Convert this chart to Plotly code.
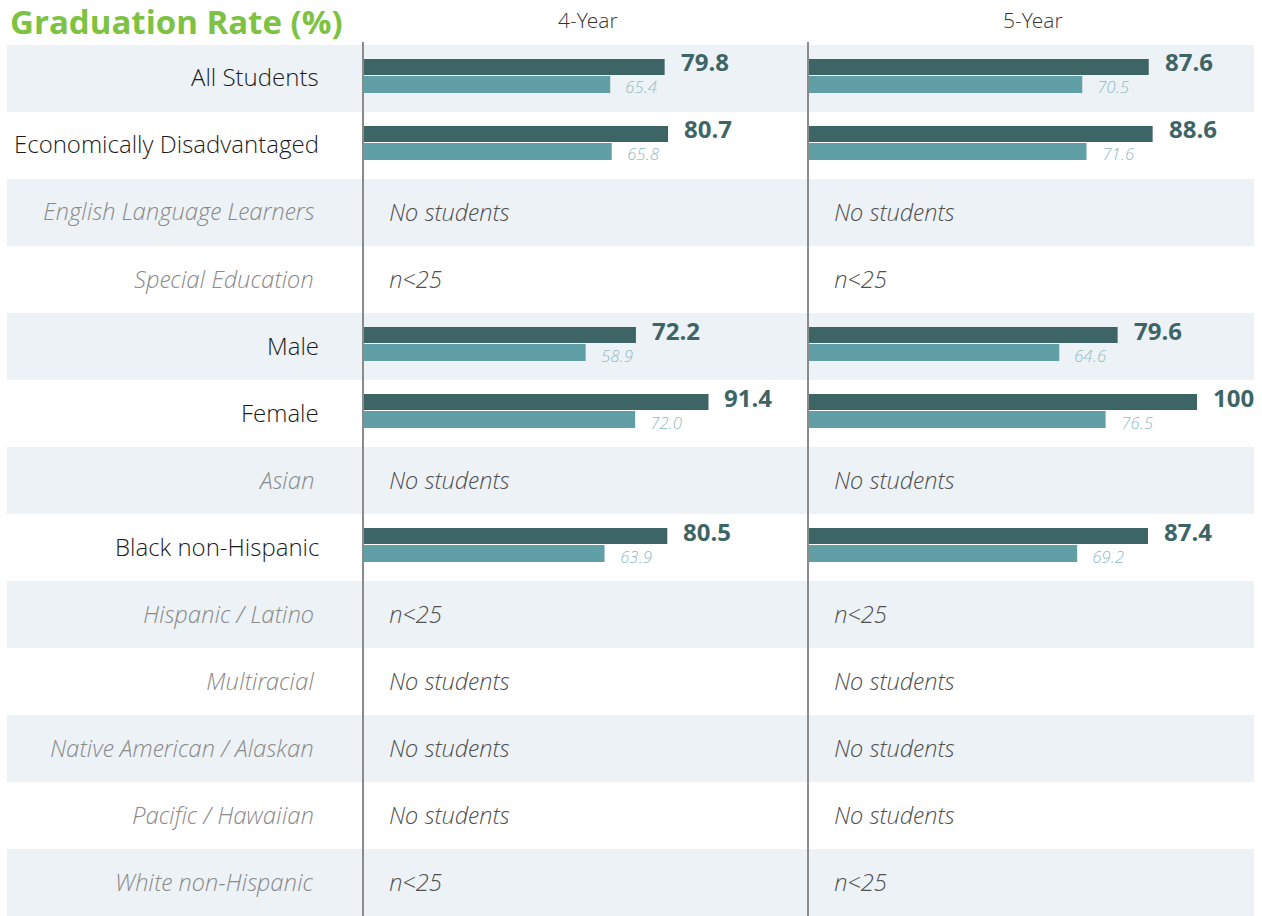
import plotly.graph_objects as go

W, H = 1262, 916

groups = ["All Students", "Economically Disadvantaged", "English Language Learners",
          "Special Education", "Male", "Female", "Asian", "Black non-Hispanic",
          "Hispanic / Latino", "Multiracial", "Native American / Alaskan",
          "Pacific / Hawaiian", "White non-Hispanic"]
status = ["", "", "No students", "n<25", "", "", "No students", "", "n<25",
          "No students", "No students", "No students", "n<25"]
four_year_school = [79.8, 80.7, None, None, 72.2, 91.4, None, 80.5, None, None, None, None, None]
four_year_state = [65.4, 65.8, None, None, 58.9, 72.0, None, 63.9, None, None, None, None, None]
five_year_school = [87.6, 88.6, None, None, 79.6, 100, None, 87.4, None, None, None, None, None]
five_year_state = [70.5, 71.6, None, None, 64.6, 76.5, None, 69.2, None, None, None, None, None]
columns = ["4-Year", "5-Year"]
title_text = "Graduation Rate (%)"

DARK = "#3e6566"
LIGHT = "#5f9fa5"
LIGHT_TXT = "#8dbcc1"
BAND = "#edf2f6"
FONT = "Open Sans Light, Open Sans"
FONT_B = "Open Sans"

rows = list(range(len(groups)))
top_px = 45
row_px = (H - top_px) / len(groups)

fig = go.Figure()

panels = [("x", four_year_school, four_year_state), ("x2", five_year_school, five_year_state)]
for xa, school, state in panels:
    fig.add_trace(go.Bar(y=rows, x=school, orientation="h", xaxis=xa, yaxis="y",
                         marker=dict(color=DARK, line=dict(width=0)),
                         width=16 / row_px, offset=-19.5 / row_px, showlegend=False,
                         hoverinfo="skip"))
    fig.add_trace(go.Bar(y=rows, x=state, orientation="h", xaxis=xa, yaxis="y",
                         marker=dict(color=LIGHT, line=dict(width=0)),
                         width=17 / row_px, offset=-2.5 / row_px, showlegend=False,
                         hoverinfo="skip"))

shapes = []
annotations = []

# row bands
for i in rows:
    if i % 2 == 0:
        shapes.append(dict(type="rect", xref="paper", yref="y", x0=7 / W, x1=1254 / W,
                           y0=i - 0.5, y1=i + 0.5, fillcolor=BAND, line=dict(width=0),
                           layer="below"))

# divider lines
for xp in (363, 808):
    shapes.append(dict(type="line", xref="paper", yref="paper", x0=xp / W, x1=xp / W,
                       y0=0, y1=1 - 42 / H, line=dict(color="#8a8a8a", width=2)))

# row labels
for i, g in enumerate(groups):
    has_data = status[i] == ""
    annotations.append(dict(
        xref="paper", yref="y", x=(321 if has_data else 316) / W, y=i,
        xanchor="right", yanchor="middle", showarrow=False, text=g, yshift=1.5,
        font=dict(family=FONT, size=24, weight=300,
                  color="#1a1a1a" if has_data else "#8a8a8a",
                  style="normal" if has_data else "italic")))

# status text in panels
for xa, xp in (("x", 387), ("x2", 832)):
    for i, s in enumerate(status):
        if s:
            annotations.append(dict(
                xref="paper", yref="y", x=xp / W, y=i, xanchor="left", yanchor="middle",
                showarrow=False, text=s, yshift=1,
                font=dict(family=FONT, size=24, weight=300, color="#505050",
                          style="italic")))

# value labels
for xa, school, state in panels:
    for i in rows:
        if school[i] is not None:
            v = school[i]
            annotations.append(dict(
                xref=xa, yref="y", x=v, y=i, xanchor="left", yanchor="middle",
                xshift=14, yshift=16.5, showarrow=False,
                text=(f"{v:.1f}" if v < 100 else f"{v:.0f}"),
                font=dict(family=FONT_B, size=24, weight=700, color=DARK)))
        if state[i] is not None:
            v = state[i]
            annotations.append(dict(
                xref=xa, yref="y", x=v, y=i, xanchor="left", yanchor="middle",
                xshift=13, yshift=-8.5, showarrow=False, text=f"{v:.1f}",
                font=dict(family=FONT, size=17, weight=300, color=LIGHT_TXT,
                          style="italic")))

# column headers
for name, (a, b) in zip(columns, ((363, 808), (808, 1253))):
    annotations.append(dict(xref="paper", yref="paper", x=(a + b + 4) / 2 / W, y=1 - 20 / H,
                            xanchor="center", yanchor="middle", showarrow=False, text=name,
                            font=dict(family=FONT, size=21, weight=300, color="#333333")))

# title
annotations.append(dict(xref="paper", yref="paper", x=8 / W, y=1 - 21 / H,
                        xanchor="left", yanchor="middle", showarrow=False,
                        text=f"<b>{title_text}</b>",
                        font=dict(family=FONT_B, size=33, color="#7dc242")))

fig.update_layout(
    width=W, height=H, margin=dict(l=0, r=0, t=0, b=0),
    paper_bgcolor="white", plot_bgcolor="rgba(0,0,0,0)",
    barmode="overlay",
    xaxis=dict(domain=[363 / W, 808 / W], range=[0, 445 / 3.78], visible=False,
               fixedrange=True),
    xaxis2=dict(domain=[808 / W, 1253 / W], range=[0, 445 / 3.89], visible=False,
                anchor="y", fixedrange=True),
    yaxis=dict(domain=[0, 1 - top_px / H], range=[len(groups) - 0.5, -0.5],
               visible=False, fixedrange=True),
    shapes=shapes, annotations=annotations,
)

fig.write_html("out.html", config={"displayModeBar": False},
               post_script="document.body.style.margin='0px';")
